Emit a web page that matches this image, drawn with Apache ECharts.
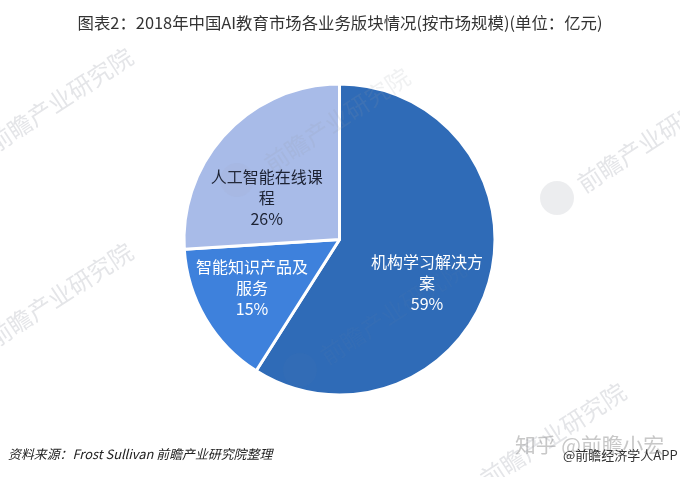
<!DOCTYPE html>
<html><head><meta charset="utf-8">
<style>html,body{margin:0;padding:0;background:#fff}#c{width:680px;height:477px}</style>
<script src="https://cdn.jsdelivr.net/npm/echarts@6/dist/echarts.min.js"></script></head>
<body><div id="c"></div>
<script>
const categories = ['机构学习解决方\n案', '智能知识产品及\n服务', '人工智能在线课\n程'];
const values = [59, 15, 26];
const sliceColors = ['#2F6BB7', '#3E81DC', '#A8BBE8'];
const labelColors = ['#fff', '#fff', '#1c2233'];
const labelOffsets = [[10, 21], [-18, 7], [-14, 14]];
const titleText = '图表2：2018年中国AI教育市场各业务版块情况(按市场规模)(单位：亿元)';
const sourceText = '资料来源：Frost Sullivan 前瞻产业研究院整理';
const marks = [[60, 100, 0.26], [337, 120, 0.14], [650, 140, 0.26], [60, 295, 0.26], [393, 312, 0.05], [553, 435, 0.26]];
const logos = [[237, 180, 0.07], [557, 198, 0.18], [300, 370, 0.03]];
const font = '"Noto Sans CJK SC", sans-serif';
const wmText = marks.map(([x, y, a]) => ({
  type: 'text', x, y, rotation: 0.58, z: 20, silent: true,
  style: { text: '前瞻产业研究院', font: '24px ' + font, fill: `rgba(150,155,165,${a})`, align: 'center', verticalAlign: 'middle' }
}));
const wmLogo = logos.map(([x, y, a]) => ({
  type: 'circle', z: 20, silent: true, shape: { cx: x, cy: y, r: 17 },
  style: { fill: `rgba(150,155,165,${a})` }
}));
const chart = echarts.init(document.getElementById('c'), null, { renderer: 'canvas' });
chart.setOption({
  animation: false,
  title: { text: titleText, left: 'center', top: 10, textStyle: { fontFamily: font, fontWeight: 'normal', fontSize: 16.4, color: '#333' } },
  series: [{
    type: 'pie', center: [339.5, 239.5], radius: [0, 155.5], startAngle: 90, clockwise: true,
    data: categories.map((name, i) => ({
      name, value: values[i],
      itemStyle: { color: sliceColors[i] },
      label: { color: labelColors[i], offset: labelOffsets[i] }
    })),
    itemStyle: { borderColor: '#fff', borderWidth: 3 },
    label: { show: true, position: 'inside', formatter: '{b}\n{d}%', fontFamily: font, fontSize: 16, lineHeight: 21, align: 'center' },
    labelLine: { show: false }
  }],
  graphic: wmText.concat(wmLogo, [
    { type: 'text', x: 8, y: 448, style: { text: sourceText, font: 'italic 12.9px ' + font, fill: '#222' } },
    { type: 'text', x: 515, y: 435, style: { text: '知乎 @前瞻小宏', font: '20.8px ' + font, fill: '#c8c8c8' } },
    { type: 'text', x: 563, y: 449, style: { text: '@前瞻经济学人APP', font: '13px ' + font, fill: '#333' } }
  ])
});
</script></body></html>
